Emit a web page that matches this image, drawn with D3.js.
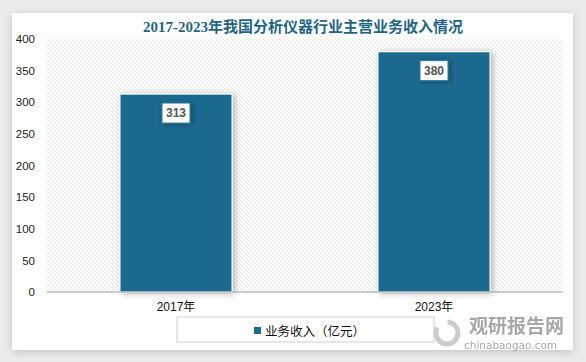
<!DOCTYPE html>
<html>
<head>
<meta charset="utf-8">
<script src="https://cdn.jsdelivr.net/npm/d3@7"></script>
<style>
  html, body { margin: 0; padding: 0; background: #ececec; }
  #chart { width: 586px; height: 362px; }
  svg { display: block; }
</style>
</head>
<body>
<div id="chart"></div>
<script>
const title = '2017-2023年我国分析仪器行业主营业务收入情况';
const categories = ['2017年', '2023年'];
const values = [313, 380];
const seriesName = '业务收入（亿元）';
const yTicks = [0, 50, 100, 150, 200, 250, 300, 350, 400];

const W = 586, H = 362;
const margin = { top: 39, right: 23, bottom: 70, left: 47 };
const barColor = '#1c6b8f';

const svg = d3.select('#chart').append('svg')
    .attr('width', W).attr('height', H);

const defs = svg.append('defs');

// card shadow
const cardShadow = defs.append('filter').attr('id', 'cardShadow')
    .attr('x', '-5%').attr('y', '-5%').attr('width', '110%').attr('height', '115%');
cardShadow.append('feDropShadow')
    .attr('dx', 0).attr('dy', 2).attr('stdDeviation', 5)
    .attr('flood-color', '#000').attr('flood-opacity', 0.18);

// bar shadow
const barShadow = defs.append('filter').attr('id', 'barShadow')
    .attr('x', '-20%').attr('y', '-20%').attr('width', '140%').attr('height', '140%');
barShadow.append('feDropShadow')
    .attr('dx', 2).attr('dy', 1).attr('stdDeviation', 3)
    .attr('flood-color', '#000').attr('flood-opacity', 0.3);

// hatch pattern for plot background
const hatch = defs.append('pattern').attr('id', 'hatch')
    .attr('patternUnits', 'userSpaceOnUse')
    .attr('width', 4).attr('height', 4);
hatch.append('rect').attr('width', 4).attr('height', 4).attr('fill', '#fff');
hatch.append('path')
    .attr('d', 'M-1,-1 L5,5 M-1,3 L1,5 M3,-1 L5,1')
    .attr('stroke', '#e3e3e3').attr('stroke-width', 0.9);

// white card
svg.append('rect')
    .attr('x', 12).attr('y', 13).attr('width', 561).attr('height', 337)
    .attr('fill', '#fff')
    .attr('filter', 'url(#cardShadow)');

const innerW = W - margin.left - margin.right;
const innerH = H - margin.top - margin.bottom;

const x = d3.scaleBand().domain(categories).range([0, innerW]).padding(0);
const y = d3.scaleLinear().domain([0, 400]).range([innerH, 0]);
const barW = x.bandwidth() * 0.435;

const g = svg.append('g').attr('transform', `translate(${margin.left},${margin.top})`);

g.append('rect')
    .attr('width', innerW).attr('height', innerH)
    .attr('fill', 'url(#hatch)');

// y axis labels
const yAxis = g.append('g')
    .call(d3.axisLeft(y).tickValues(yTicks).tickSize(0).tickPadding(12));
yAxis.select('.domain').remove();
yAxis.selectAll('text')
    .attr('font-family', 'Liberation Sans, Arial, sans-serif')
    .attr('font-size', 11.5).attr('fill', '#222');

// bars
g.selectAll('.bar').data(values).enter().append('rect')
    .attr('class', 'bar')
    .attr('x', (d, i) => x(categories[i]) + (x.bandwidth() - barW) / 2)
    .attr('y', d => y(d))
    .attr('width', barW)
    .attr('height', d => innerH - y(d))
    .attr('fill', barColor)
    .attr('stroke', '#fff').attr('stroke-width', 1.2)
    .attr('filter', 'url(#barShadow)');

// baseline
g.append('line')
    .attr('x1', 0).attr('x2', innerW)
    .attr('y1', innerH).attr('y2', innerH)
    .attr('stroke', '#9a9a9a').attr('stroke-width', 1);

// value labels
const lbl = g.selectAll('.lbl').data(values).enter().append('g')
    .attr('class', 'lbl')
    .attr('transform', (d, i) => `translate(${x(categories[i]) + x.bandwidth() / 2},${y(d) + 19})`);
lbl.append('rect')
    .attr('x', -14).attr('y', -10).attr('width', 28).attr('height', 20)
    .attr('fill', '#fff').attr('stroke', '#2a7aa0').attr('stroke-width', 1)
    .attr('filter', 'url(#barShadow)');
lbl.append('text')
    .attr('text-anchor', 'middle').attr('dy', '0.36em')
    .attr('font-family', 'Liberation Sans, Arial, sans-serif')
    .attr('font-weight', 'bold').attr('font-size', 12).attr('fill', '#555')
    .text(d => d);

// x axis labels
const xAxis = g.append('g')
    .attr('transform', `translate(0,${innerH})`)
    .call(d3.axisBottom(x).tickSize(0).tickPadding(10));
xAxis.select('.domain').remove();
xAxis.selectAll('text')
    .attr('font-family', 'Liberation Sans, "Noto Sans CJK SC", sans-serif')
    .attr('font-size', 12).attr('fill', '#111');

// title
svg.append('text')
    .attr('x', 303).attr('y', 32)
    .attr('text-anchor', 'middle')
    .attr('font-family', '"Liberation Serif", "Noto Sans CJK SC", serif')
    .attr('font-weight', 'bold').attr('font-size', 15)
    .attr('fill', '#1f6585')
    .text(title);

// legend
const legend = svg.append('g');
legend.append('rect')
    .attr('x', 177).attr('y', 317).attr('width', 257).attr('height', 25)
    .attr('fill', '#fff').attr('stroke', '#cfcfcf').attr('stroke-width', 1);
legend.append('rect')
    .attr('x', 254).attr('y', 327).attr('width', 7).attr('height', 7)
    .attr('fill', barColor);
legend.append('text')
    .attr('x', 265).attr('y', 335.5)
    .attr('font-family', '"Noto Sans CJK SC", sans-serif')
    .attr('font-size', 12.5).attr('fill', '#111')
    .text(seriesName);

// watermark
const wm = svg.append('g').attr('opacity', 0.75);
wm.append('circle').attr('cx', 447).attr('cy', 333).attr('r', 11)
    .attr('fill', 'none').attr('stroke', '#bbb').attr('stroke-width', 5)
    .attr('stroke-dasharray', '40 12');
wm.append('text')
    .attr('x', 469).attr('y', 333)
    .attr('font-family', '"Noto Sans CJK SC", sans-serif')
    .attr('font-weight', 'bold').attr('font-size', 19).attr('fill', '#8a8a8a')
    .text('观研报告网');
wm.append('text')
    .attr('x', 464).attr('y', 349)
    .attr('font-family', '"DejaVu Sans", sans-serif')
    .attr('font-size', 10.5).attr('fill', '#8a8a8a')
    .text('chinabaogao.com');
</script>
</body>
</html>
